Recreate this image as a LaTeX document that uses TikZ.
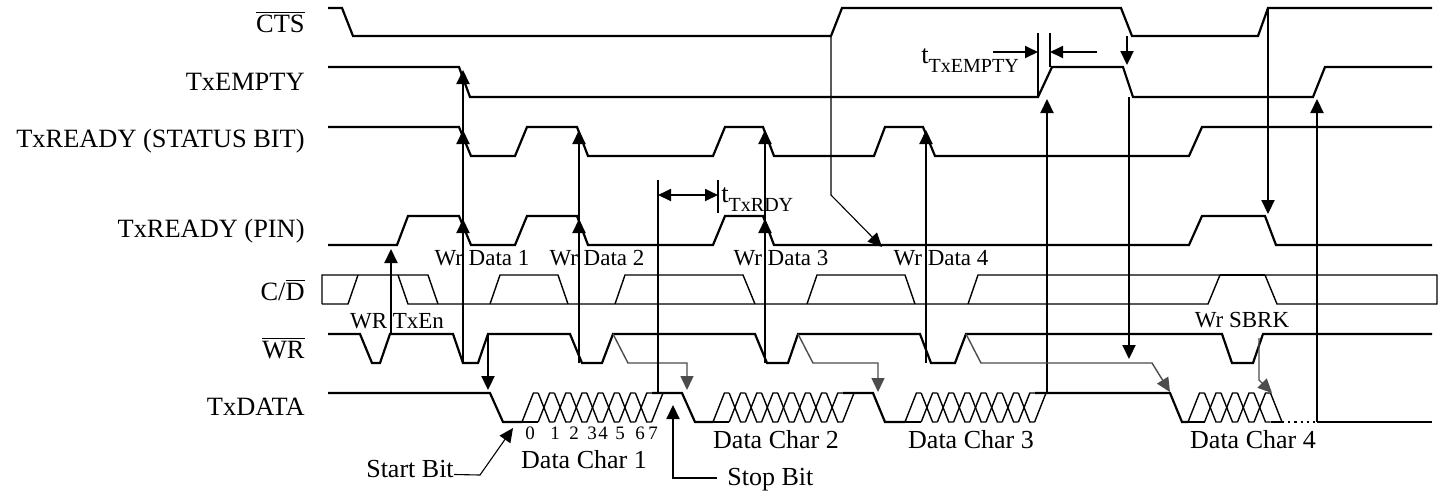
\documentclass[tikz,border=0pt]{standalone}
\usepackage{fontspec}
\setmainfont{Liberation Serif}
\usepackage{tikz}
\usetikzlibrary{arrows.meta, calc}

\tikzset{
  sigline/.style={line width=1.1pt},
  busline/.style={line width=0.7pt},
  wrarrow/.style={line width=1.1pt, -{Triangle[length=7pt,width=6.5pt]}},
  thinarrow/.style={line width=0.55pt, -{Triangle[length=7pt,width=6.5pt]}},
  grayarrow/.style={line width=0.7pt, black!70, -{Triangle[length=7pt,width=6.5pt]}},
  siglabel/.style={anchor=east, inner sep=0pt, font=\fontsize{13.2}{15}\selectfont},
  wrlabel/.style={inner sep=0pt, font=\fontsize{11.5}{13}\selectfont},
  charlabel/.style={inner sep=0pt, font=\fontsize{13}{15}\selectfont},
  bitlabel/.style={inner sep=0pt, font=\fontsize{9.5}{11}\selectfont},
  timelabel/.style={anchor=base west, inner sep=0pt, font=\fontsize{13.2}{15}\selectfont},
}

\newcommand{\ovl}[1]{$\overline{\mbox{#1}}$}
\newcommand{\tsub}[1]{\raisebox{-4.5pt}{\fontsize{10}{12}\selectfont #1}}
% data bits: start x, cells, pitch, edge width
\newcommand{\bitcells}[4]{%
  \pgfmathtruncatemacro\lastk{#2-1}
  \draw[busline] (#1,422) -- ({#1+#4},393) -- ({#1+#3},393);
  \draw[busline] (#1,422) -- ({#1+#3},422);
  \foreach \k in {1,...,\lastk}{
    \draw[busline] ({#1+\k*#3},393) -- ({#1+\k*#3+#4},422) -- ({#1+(\k+1)*#3},422);
    \draw[busline] ({#1+\k*#3},422) -- ({#1+\k*#3+#4},393) -- ({#1+(\k+1)*#3},393);
  }
}

\begin{document}
\begin{tikzpicture}[x=0.5pt, y=-0.5pt]
\useasboundingbox (0,0) rectangle (1448,495);

% signal names
\node[siglabel] (lcts) at (305,22) {\ovl{CTS}};
\node[siglabel] (ltxe) at (305,82) {TxEMPTY};
\node[siglabel] (lsts) at (305,141) {TxREADY (STATUS BIT)};
\node[siglabel] (lpin) at (305,231) {TxREADY (PIN)};
\node[siglabel] (lcd)  at (305,290) {C/\ovl{D}};
\node[siglabel] (lwr)  at (305,348) {\ovl{WR}};
\node[siglabel] (ltxd) at (305,407) {TxDATA};

% CTS
\draw[sigline] (328,8) -- (342,8) -- (353,36) -- (831,36) -- (842,8) -- (1121,8)
  -- (1132,36) -- (1258,36) -- (1268,8) -- (1432,8);

% TxEMPTY
\draw[sigline] (328,67) -- (459,67) -- (470,97) -- (1038,97) -- (1052,67) -- (1123,67)
  -- (1133,97) -- (1313,97) -- (1325,67) -- (1432,67);

% TxREADY status bit
\draw[sigline] (328,127) -- (459,127) -- (471,156) -- (515,156) -- (527,127) -- (577,127)
  -- (588,156) -- (713,156) -- (725,127) -- (763,127) -- (774,156) -- (874,156)
  -- (885,127) -- (923,127) -- (935,156) -- (1189,156) -- (1202,127) -- (1432,127);

% TxREADY pin
\draw[sigline] (328,245) -- (397,245) -- (408,216) -- (459,216) -- (471,245) -- (515,245)
  -- (527,216) -- (577,216) -- (588,245) -- (713,245) -- (725,216) -- (763,216)
  -- (774,245) -- (1189,245) -- (1202,216) -- (1265,216) -- (1276,245) -- (1432,245);

% C/D
\draw[busline] (322,304) -- (322,275) -- (428,275) -- (438,304);
\draw[busline] (322,304) -- (348,304) -- (358,275);
\draw[busline] (398,275) -- (408,304) -- (1208,304) -- (1220,275) -- (1265,275) -- (1277,304)
  -- (1437,304) -- (1437,275) -- (978,275) -- (968,304);
\draw[busline] (490,304) -- (500,275) -- (558,275) -- (568,304);
\draw[busline] (615,304) -- (625,275) -- (743,275) -- (755,304);
\draw[busline] (807,304) -- (817,275) -- (905,275) -- (915,304);
\draw[sigline] (1220,275) -- (1265,275);

% WR
\draw[sigline] (328,334) -- (360,334) -- (372,363) -- (380,363) -- (390,334) -- (453,334)
  -- (463,363) -- (478,363) -- (488,334) -- (570,334) -- (582,363) -- (602,363)
  -- (613,334) -- (755,334) -- (767,363) -- (788,363) -- (798,334) -- (920,334)
  -- (931,363) -- (955,363) -- (966,334) -- (1222,334) -- (1232,363) -- (1253,363)
  -- (1263,334) -- (1432,334);

% TxDATA
\draw[sigline] (328,393) -- (490,393) -- (503,422) -- (522,422);
\bitcells{522}{8}{16.2}{11.4}
\draw[busline] (651.6,422) -- (663,393);
\draw[sigline] (651.6,393) -- (682,393) -- (695,422) -- (713,422);
\bitcells{713}{8}{16.2}{11.4}
\draw[busline] (842.6,422) -- (854,393);
\draw[sigline] (842.6,393) -- (873,393) -- (885,422) -- (905,422);
\bitcells{905}{8}{16.2}{11.4}
\draw[busline] (1034.6,422) -- (1046,393);
\draw[sigline] (1034.6,393) -- (1170,393) -- (1182,422) -- (1188,422);
\bitcells{1188}{5}{16.5}{11.5}
\draw[busline] (1270.5,393) -- (1282,422);
\draw[sigline] (1270.5,422) -- (1282,422);
\draw[sigline, dotted] (1282,422) -- (1317,422);
\draw[sigline] (1317,422) -- (1432,422);

% write labels
\node[wrlabel] (wrtxen) at (397,321) {WR TxEn};
\node[wrlabel] (wrd1) at (482,258) {Wr Data 1};
\node[wrlabel] (wrd2) at (597,258) {Wr Data 2};
\node[wrlabel] (wrd3) at (781,258) {Wr Data 3};
\node[wrlabel] (wrd4) at (941,258) {Wr Data 4};
\node[wrlabel] (wrsbrk) at (1242,320) {Wr SBRK};

% data characters
\foreach \d/\x in {0/530,1/555,2/574,3/592,4/603,5/620,6/640,7/653}
  \node[bitlabel] (bit\d) at (\x,433) {\d};
\node[charlabel] (char1) at (584,460) {Data Char 1};
\node[charlabel] (char2) at (776,440) {Data Char 2};
\node[charlabel] (char3) at (971,440) {Data Char 3};
\node[charlabel] (char4) at (1253,440) {Data Char 4};
\node[charlabel] (startbit) at (410,469) {Start Bit};
\node[charlabel, anchor=base west] (stopbit) at (727,485) {Stop Bit};

% edge points
\coordinate (en0) at (391,334);   \coordinate (pr0) at (391,249);
\coordinate (wr1) at (463,363);   \coordinate (em1) at (463,70);
\coordinate (st1) at (463,130);   \coordinate (pf1) at (463,219);
\coordinate (wr2) at (579,363);   \coordinate (st2) at (579,130);
\coordinate (pf2) at (579,219);
\coordinate (wr3) at (765,363);   \coordinate (st3) at (765,130);
\coordinate (pf3) at (765,219);
\coordinate (wr4) at (926,363);   \coordinate (st4) at (926,130);
\coordinate (wu1) at (488,334);   \coordinate (td1) at (488,390);
\coordinate (ctsr) at (831,37);   \coordinate (pl4) at (882,247);
\coordinate (cemp) at (1047,393); \coordinate (er1) at (1047,99);
\coordinate (tend) at (1317,422); \coordinate (er2) at (1317,99);
\coordinate (ctsf) at (1127,36);  \coordinate (ef2) at (1127,65);
\coordinate (ef3) at (1129,97);   \coordinate (wsb) at (1129,359);
\coordinate (ctsr2) at (1268,8);  \coordinate (pf5) at (1268,214);

% WR to flags
\draw[wrarrow] (en0) -- (pr0);
\draw[wrarrow] (wr1) -- (em1);
\draw[wrarrow] (wr1) -- (st1);
\draw[wrarrow] (wr1) -- (pf1);
\draw[wrarrow] (wr2) -- (st2);
\draw[wrarrow] (wr2) -- (pf2);
\draw[wrarrow] (wr3) -- (st3);
\draw[wrarrow] (wr3) -- (pf3);
\draw[wrarrow] (wr4) -- (st4);
\draw[wrarrow] (wu1) -- (td1);
\draw[thinarrow] (ctsr) -- (831,195) -- (pl4);
\draw[wrarrow] (cemp) -- (er1);
\draw[wrarrow] (tend) -- (er2);
\draw[wrarrow] (ctsf) -- (ef2);
\draw[wrarrow] (ef3) -- (wsb);
\draw[wrarrow] (ctsr2) -- (pf5);

% WR to next start bit
\coordinate (wu2) at (613,334); \coordinate (sb2) at (687,390);
\coordinate (wu3) at (798,334); \coordinate (sb3) at (878,392);
\coordinate (wu4) at (966,334); \coordinate (sb4) at (1170,392);
\coordinate (wu5) at (1259,338); \coordinate (sb5) at (1272,393);
\draw[grayarrow] (wu2) -- (628,363) -- (687,363) -- (sb2);
\draw[grayarrow] (wu3) -- (813,363) -- (878,363) -- (sb3);
\draw[grayarrow] (wu4) -- (981,363) -- (1152,363) -- (sb4);
\draw[grayarrow] (wu5) -- (1259,380) -- (sb5);

% start and stop bit pointers
\coordinate (sbtip) at (513,428);
\coordinate (stoptip) at (673,405);
\draw[thinarrow] ([yshift=1.5pt]startbit.base east) -- (480,475) -- (sbtip);
\draw[wrarrow] ([yshift=3.5pt,xshift=-5pt]stopbit.base west) -- (673,478) -- (stoptip);

% t_TxRDY
\coordinate (rdya) at (658,180); \coordinate (rdyb) at (718,180);
\draw[line width=0.9pt] (rdya) -- (658,393);
\draw[line width=0.9pt] (rdyb) -- (718,213);
\draw[line width=0.9pt, {Triangle[length=6.5pt,width=6pt]}-{Triangle[length=6.5pt,width=6pt]}]
  (658,195) -- (718,195);
\node[timelabel] (ttxrdy) at (721,202) {t\tsub{TxRDY}};

% t_TxEMPTY
\coordinate (empa) at (1038,33); \coordinate (empb) at (1050,33);
\draw[line width=0.9pt] (empa) -- (1038,97);
\draw[line width=0.9pt] (empb) -- (1050,67);
\draw[line width=0.9pt, -{Triangle[length=6.5pt,width=6pt]}] (993,52) -- (1038,52);
\draw[line width=0.9pt, -{Triangle[length=6.5pt,width=6pt]}] (1097,52) -- (1050,52);
\node[timelabel] (ttxe) at (921,63) {t\tsub{TxEMPTY}};

\end{tikzpicture}
\end{document}
